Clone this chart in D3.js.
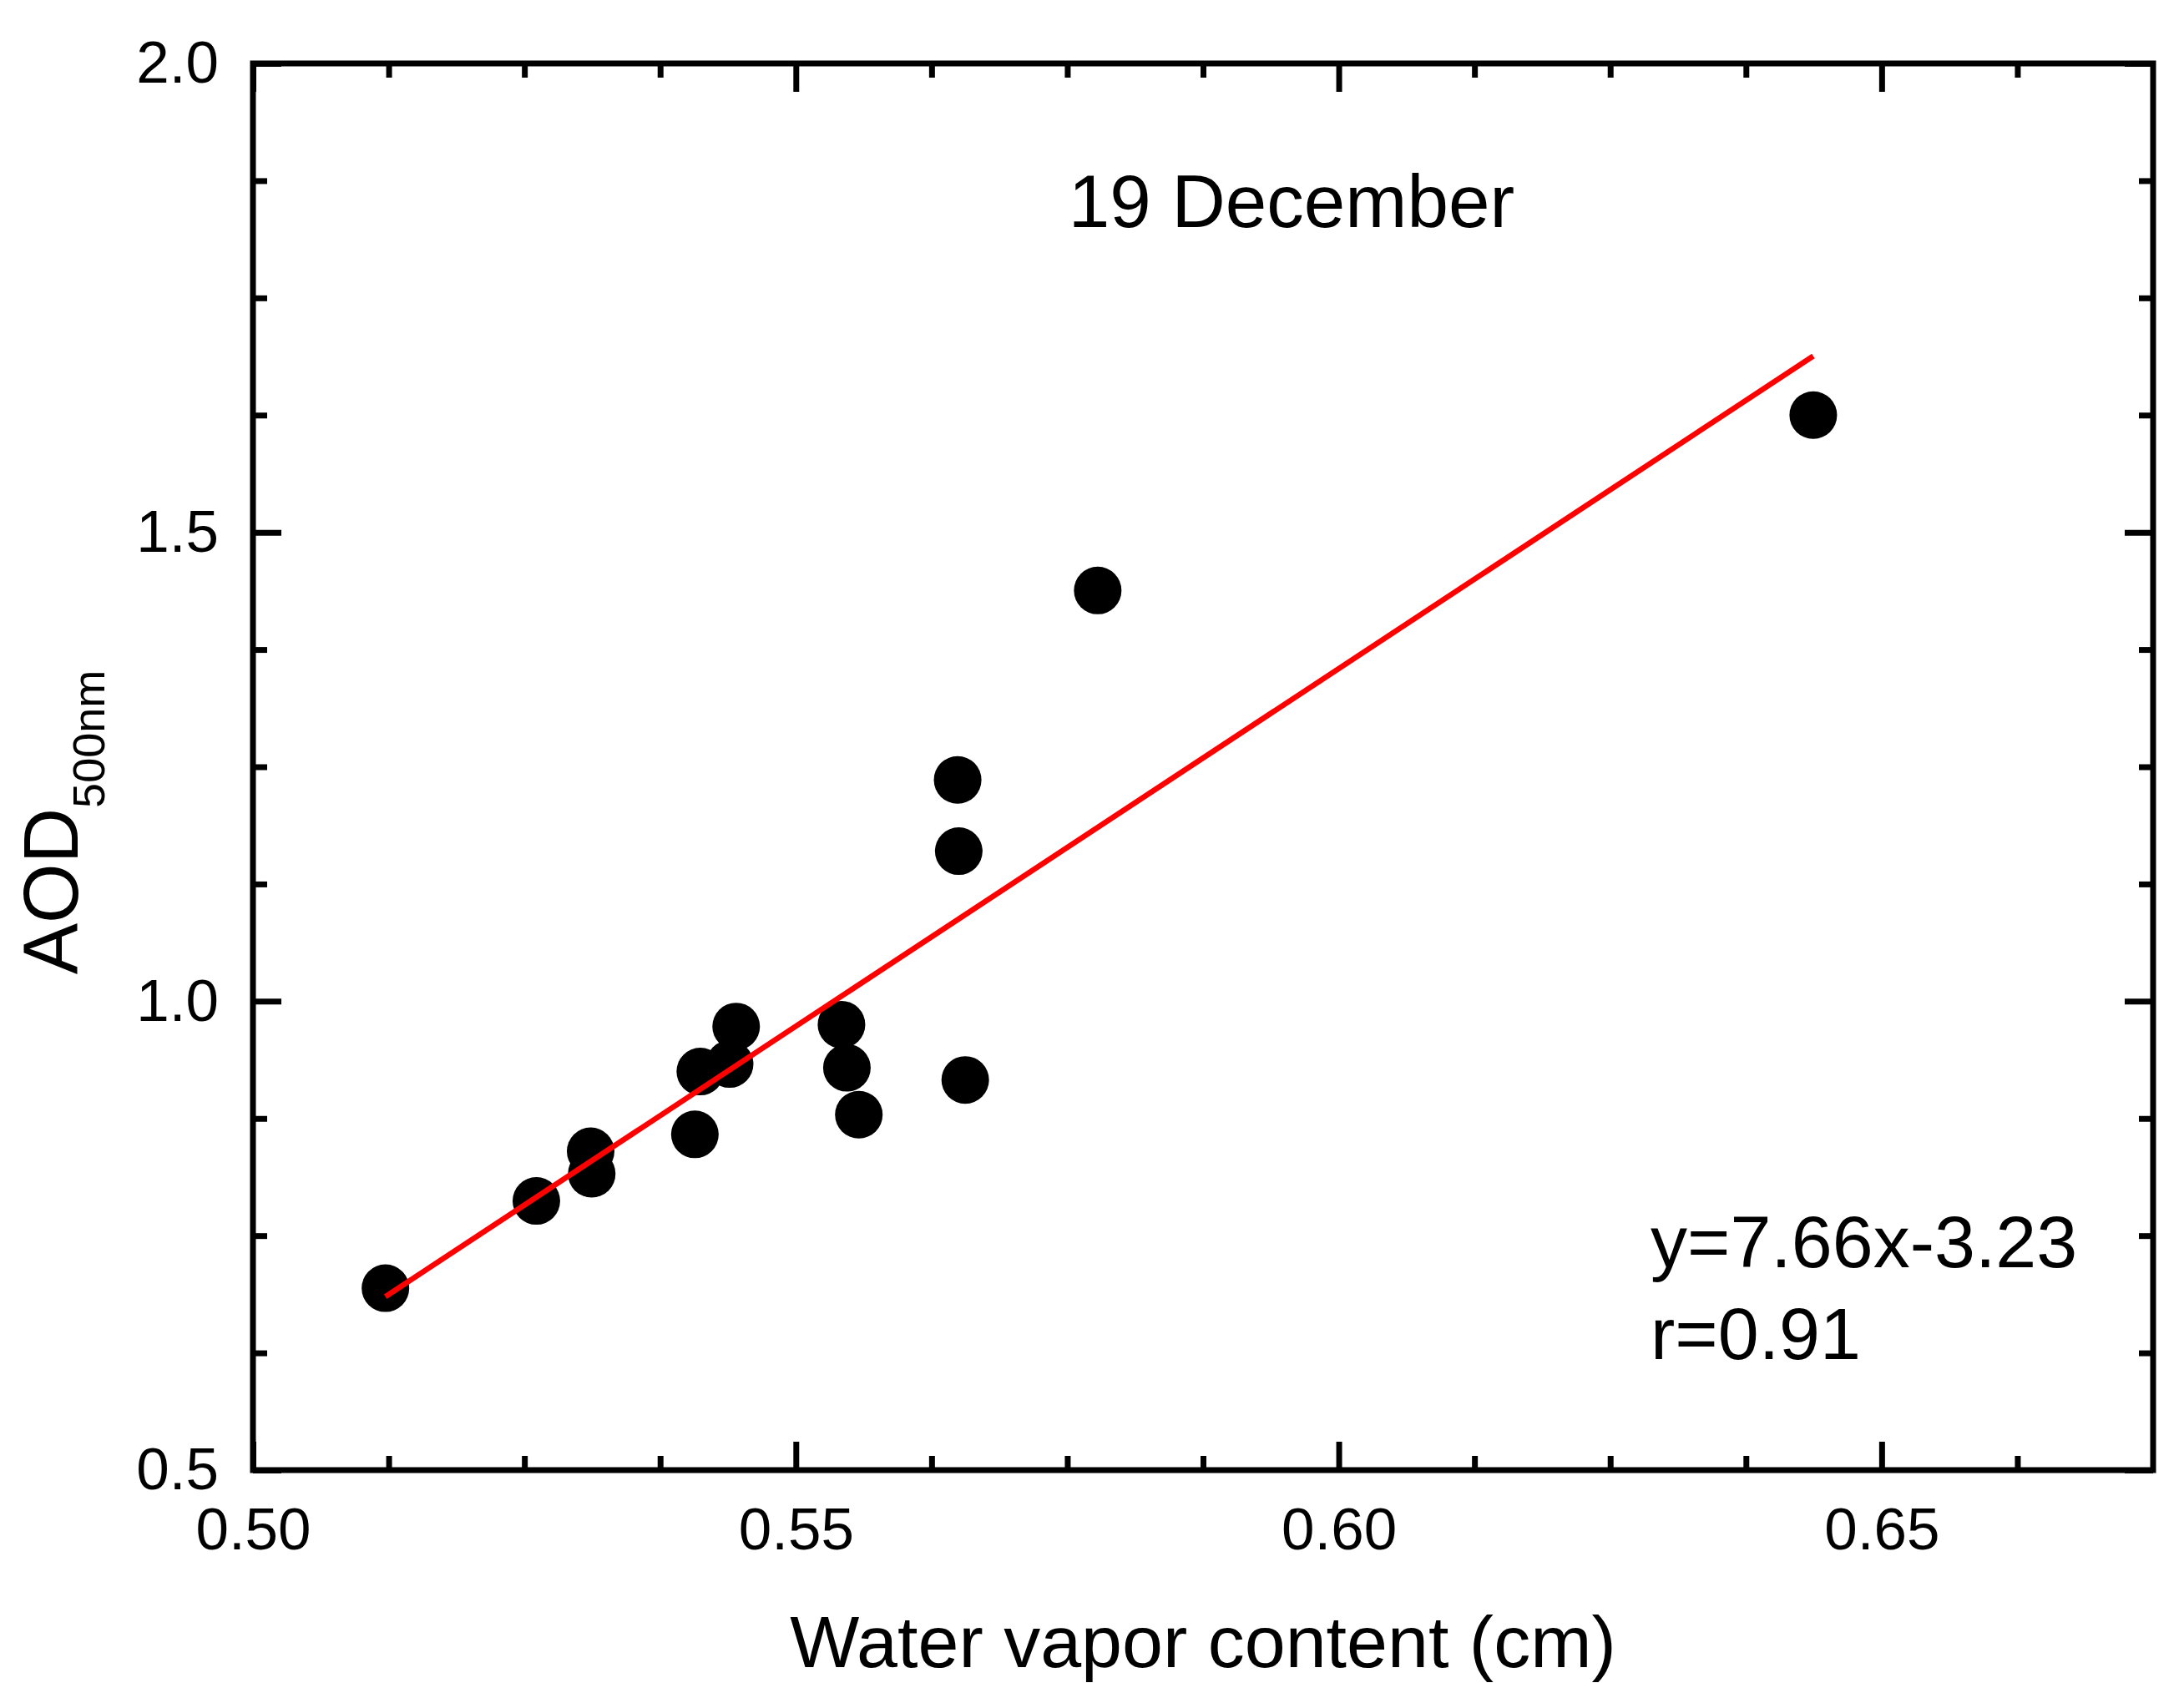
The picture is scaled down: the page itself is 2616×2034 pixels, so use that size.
<!DOCTYPE html>
<html>
<head>
<meta charset="utf-8">
<script src="https://cdn.jsdelivr.net/npm/d3@7"></script>
<style>
    body { margin: 0; background: #fff; }
    text { font-family: "Liberation Sans", Arial, sans-serif; fill: #000; }
</style>
</head>
<body>
<svg id="chart"></svg>
<script>
// water vapor content (cm) and AOD at 500 nm, 19 December
var waterVapor = [0.5122, 0.5261, 0.5311, 0.5312, 0.5407, 0.5412, 0.5439, 0.5445,
                  0.5542, 0.5547, 0.5558, 0.5649, 0.5650, 0.5656, 0.5778, 0.6437];
var aod = [0.694, 0.787, 0.840, 0.816, 0.858, 0.925, 0.933, 0.973,
           0.975, 0.929, 0.879, 1.236, 1.160, 0.916, 1.438, 1.625];

// linear fit, drawn between these end points
var fitX = [0.5122, 0.6437];
var fitY = [0.685, 1.688];

var xMajor = [0.50, 0.55, 0.60, 0.65];
var xMinor = [0.5125, 0.525, 0.5375, 0.5625, 0.575, 0.5875, 0.6125, 0.625, 0.6375, 0.6625];
var yMajor = [0.5, 1.0, 1.5, 2.0];
var yMinor = [0.625, 0.75, 0.875, 1.125, 1.25, 1.375, 1.625, 1.75, 1.875];

var title = "19 December",
    equation = "y=7.66x-3.23",
    corr = "r=0.91",
    xlabel = "Water vapor content (cm)";

var width = 2616,
    height = 2034,
    margin = {top: 76, right: 37, bottom: 273, left: 303},
    innerwidth = width - margin.left - margin.right,
    innerheight = height - margin.top - margin.bottom;

var xScale = d3.scaleLinear().domain([0.50, 0.675]).range([0, innerwidth]);
var yScale = d3.scaleLinear().domain([0.5, 2.0]).range([innerheight, 0]);

var svg = d3.select("#chart")
    .attr("width", width)
    .attr("height", height);

svg.append("rect")
    .attr("width", width)
    .attr("height", height)
    .attr("fill", "#fff");

var g = svg.append("g")
    .attr("transform", "translate(" + margin.left + "," + margin.top + ")");

function styleAxis(sel) {
    sel.select(".domain").remove();
    sel.selectAll(".tick line").attr("stroke", "#000").attr("stroke-width", 7);
    sel.selectAll(".tick text").style("font-size", "71px").attr("fill", "#000");
}

// major ticks (inward) with labels
g.append("g")
    .attr("class", "x axis")
    .attr("transform", "translate(0," + innerheight + ")")
    .call(d3.axisBottom(xScale).tickValues(xMajor).tickSize(-34).tickPadding(45).tickFormat(d3.format(".2f")))
    .call(styleAxis);

g.append("g")
    .attr("class", "y axis")
    .call(d3.axisLeft(yScale).tickValues(yMajor).tickSize(-34).tickPadding(41).tickFormat(d3.format(".1f")))
    .call(styleAxis);

// mirrored ticks on top and right
g.append("g")
    .call(d3.axisTop(xScale).tickValues(xMajor).tickSize(-34).tickFormat(""))
    .call(styleAxis);

g.append("g")
    .attr("transform", "translate(" + innerwidth + ",0)")
    .call(d3.axisRight(yScale).tickValues(yMajor).tickSize(-34).tickFormat(""))
    .call(styleAxis);

// minor ticks
g.append("g")
    .attr("transform", "translate(0," + innerheight + ")")
    .call(d3.axisBottom(xScale).tickValues(xMinor).tickSize(-17).tickFormat(""))
    .call(styleAxis);

g.append("g")
    .call(d3.axisTop(xScale).tickValues(xMinor).tickSize(-17).tickFormat(""))
    .call(styleAxis);

g.append("g")
    .call(d3.axisLeft(yScale).tickValues(yMinor).tickSize(-17).tickFormat(""))
    .call(styleAxis);

g.append("g")
    .attr("transform", "translate(" + innerwidth + ",0)")
    .call(d3.axisRight(yScale).tickValues(yMinor).tickSize(-17).tickFormat(""))
    .call(styleAxis);

// frame
g.append("rect")
    .attr("width", innerwidth)
    .attr("height", innerheight)
    .attr("fill", "none")
    .attr("stroke", "#000")
    .attr("stroke-width", 7);

// points
g.selectAll(".dot")
    .data(waterVapor)
    .enter().append("circle")
    .attr("class", "dot")
    .attr("cx", function(d) { return xScale(d); })
    .attr("cy", function(d, i) { return yScale(aod[i]); })
    .attr("r", 28.5)
    .attr("fill", "#000");

// fit line
var line = d3.line()
    .x(function(d) { return xScale(d); })
    .y(function(d, i) { return yScale(fitY[i]); });

g.append("path")
    .datum(fitX)
    .attr("d", line)
    .attr("fill", "none")
    .attr("stroke", "#ff0000")
    .attr("stroke-width", 6.5);

// annotations
svg.append("text")
    .attr("x", 1547)
    .attr("y", 272)
    .style("text-anchor", "middle")
    .style("font-size", "89px")
    .text(title);

svg.append("text")
    .attr("x", 1977)
    .attr("y", 1518)
    .style("font-size", "88px")
    .text(equation);

svg.append("text")
    .attr("x", 1977)
    .attr("y", 1628)
    .style("font-size", "88px")
    .text(corr);

// axis labels
svg.append("text")
    .attr("x", margin.left + innerwidth / 2)
    .attr("y", 1997)
    .style("text-anchor", "middle")
    .style("font-size", "88px")
    .text(xlabel);

var ylab = svg.append("text")
    .attr("transform", "translate(93,985) rotate(-90)")
    .style("text-anchor", "middle")
    .style("font-size", "92px");
ylab.append("tspan").text("AOD");
ylab.append("tspan").attr("dy", 32).style("font-size", "54px").text("500nm");
</script>
</body>
</html>
